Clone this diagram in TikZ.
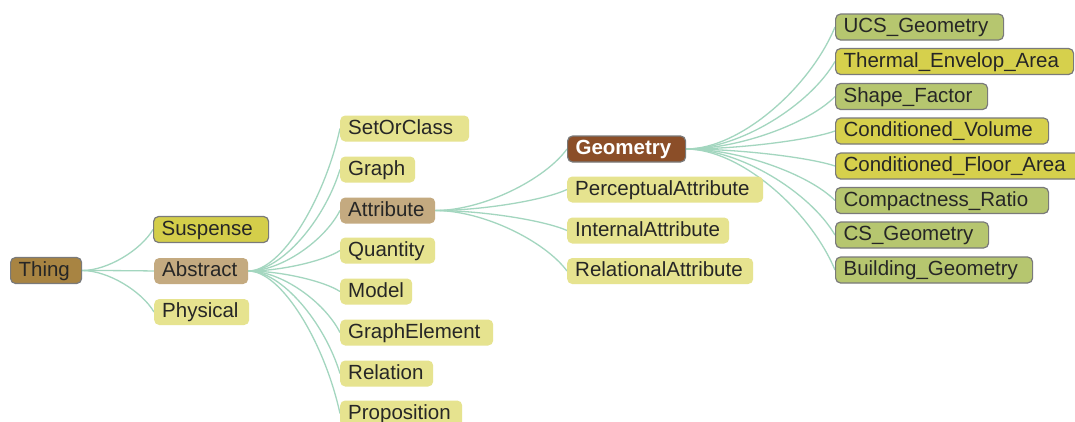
\documentclass[tikz,border=0pt]{standalone}
\usepackage{fontspec}
\setmainfont{Liberation Sans}
\usetikzlibrary{calc,backgrounds}
\definecolor{thingc}{HTML}{A88442}
\definecolor{suspc}{HTML}{D4CE4A}
\definecolor{tanc}{HTML}{C4AA80}
\definecolor{lightc}{HTML}{E6E38F}
\definecolor{geoc}{HTML}{8B4E28}
\definecolor{greenc}{HTML}{B6C66F}
\definecolor{yellc}{HTML}{D6D04C}
\definecolor{edgec}{HTML}{A3D6BF}
\definecolor{borderc}{HTML}{7A7A7A}
\tikzset{
  box/.style={rounded corners=5pt, inner xsep=8pt, inner ysep=3pt, anchor=west,
    font=\fontsize{20.5}{24}\selectfont, text height=15.8pt, text depth=4.2pt, text=black!85},
  bord/.style={draw=borderc, line width=1.2pt},
  thingbox/.style={box, bord, fill=thingc},
  suspbox/.style={box, bord, fill=suspc},
  tanbox/.style={box, fill=tanc},
  lightbox/.style={box, fill=lightc},
  geobox/.style={box, bord, fill=geoc, text=white, font=\fontsize{20.5}{24}\selectfont\bfseries},
  greenbox/.style={box, bord, fill=greenc},
  yellbox/.style={box, bord, fill=yellc},
  link/.style={draw=edgec, line width=1.3pt}
}
\newcommand{\lbl}[2]{\makebox[#1pt][l]{#2}}
\newcommand{\linkit}[2]{%
  \draw[link] let \p1=(#1.east), \p2=(#2.west) in
    (\p1) .. controls ({\x1+0.36*(\x2-\x1)},\y1) and ({\x2-0.17*(\x2-\x1)},{0.5*\y1+0.5*\y2}) .. (\p2);}
\begin{document}
\begin{tikzpicture}[x=1pt,y=-1pt]
\useasboundingbox (0,0) rectangle (1075,421);
% level 0
\node[thingbox] (thing) at (10,270.5) {\lbl{55}{Thing}};
% level 1
\node[suspbox] (susp) at (153,229.5) {\lbl{99}{Suspense}};
\node[tanbox] (abstract) at (154,271) {\lbl{78}{Abstract}};
\node[lightbox] (physical) at (154,312) {\lbl{79}{Physical}};
% level 2
\node[lightbox] (setorclass) at (340,128.5) {\lbl{113}{SetOrClass}};
\node[lightbox] (graph) at (340,169.5) {\lbl{59}{Graph}};
\node[tanbox] (attribute) at (340,210.5) {\lbl{79}{Attribute}};
\node[lightbox] (quantity) at (340,250.5) {\lbl{79}{Quantity}};
\node[lightbox] (model) at (340,291.5) {\lbl{56}{Model}};
\node[lightbox] (graphelement) at (340,332.5) {\lbl{137}{GraphElement}};
\node[lightbox] (relation) at (340,373.5) {\lbl{77}{Relation}};
\node[lightbox] (proposition) at (340,413.5) {\lbl{106}{Proposition}};
% level 3
\node[geobox] (geometry) at (567,149) {\lbl{102}{Geometry}};
\node[lightbox] (perceptual) at (567,189.5) {\lbl{180}{PerceptualAttribute}};
\node[lightbox] (internal) at (567,230.5) {\lbl{146}{InternalAttribute}};
\node[lightbox] (relational) at (567,271) {\lbl{170}{RelationalAttribute}};
% level 4
\node[greenbox] (ucs) at (835,27) {\lbl{152}{UCS\_Geometry}};
\node[yellbox] (thermal) at (835,61.5) {\lbl{222}{Thermal\_Envelop\_Area}};
\node[greenbox] (shape) at (835,96.5) {\lbl{136}{Shape\_Factor}};
\node[yellbox] (condvol) at (835,131) {\lbl{197}{Conditioned\_Volume}};
\node[yellbox] (condfloor) at (835,166) {\lbl{229}{Conditioned\_Floor\_Area}};
\node[greenbox] (compact) at (835,200.5) {\lbl{197}{Compactness\_Ratio}};
\node[greenbox] (cs) at (835,235) {\lbl{137}{CS\_Geometry}};
\node[greenbox] (building) at (835,270) {\lbl{181}{Building\_Geometry}};
\begin{pgfonlayer}{background}
\fill[white] (0,0) rectangle (1075,421);
\linkit{thing}{susp}
\linkit{thing}{abstract}
\linkit{thing}{physical}
\linkit{abstract}{setorclass}
\linkit{abstract}{graph}
\linkit{abstract}{attribute}
\linkit{abstract}{quantity}
\linkit{abstract}{model}
\linkit{abstract}{graphelement}
\linkit{abstract}{relation}
\linkit{abstract}{proposition}
\linkit{attribute}{geometry}
\linkit{attribute}{perceptual}
\linkit{attribute}{internal}
\linkit{attribute}{relational}
\linkit{geometry}{ucs}
\linkit{geometry}{thermal}
\linkit{geometry}{shape}
\linkit{geometry}{condvol}
\linkit{geometry}{condfloor}
\linkit{geometry}{compact}
\linkit{geometry}{cs}
\linkit{geometry}{building}
\end{pgfonlayer}
\end{tikzpicture}
\end{document}
